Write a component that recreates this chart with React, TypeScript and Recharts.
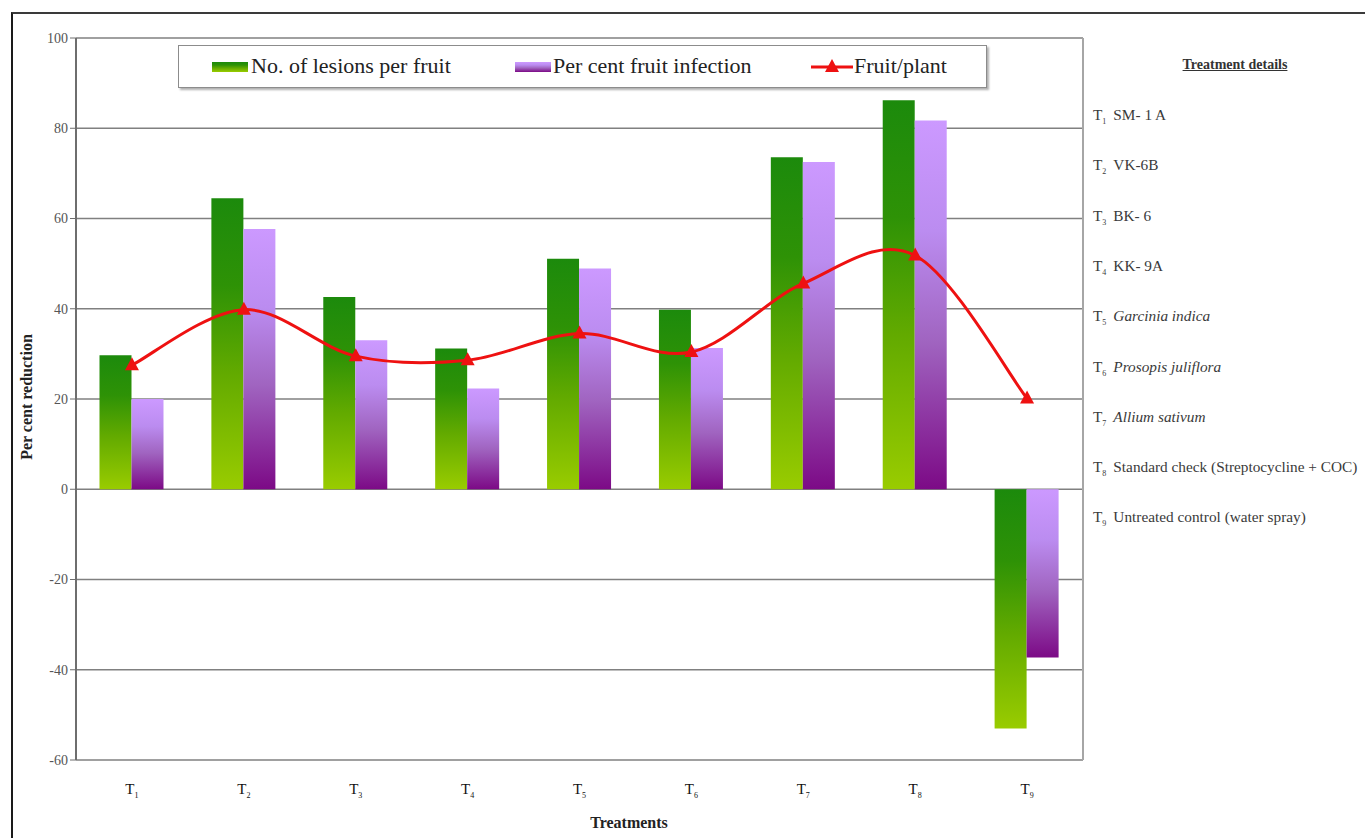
import React from "react";
import {
  ComposedChart,
  Bar,
  Line,
  XAxis,
  YAxis,
  CartesianGrid,
  Legend,
} from "recharts";

const categories = ["T1", "T2", "T3", "T4", "T5", "T6", "T7", "T8", "T9"];
const lesionsPerFruit = [29.7, 64.5, 42.6, 31.2, 51.1, 39.8, 73.6, 86.2, -53.0];
const fruitInfection = [20.0, 57.7, 33.0, 22.3, 48.9, 31.3, 72.5, 81.7, -37.3];
const fruitPerPlant = [27.5, 39.8, 29.5, 28.6, 34.5, 30.4, 45.6, 51.8, 20.1];
const yTicks = [-60, -40, -20, 0, 20, 40, 60, 80, 100];

const treatmentNames = [
  "SM- 1 A",
  "VK-6B",
  "BK- 6",
  "KK- 9A",
  "Garcinia indica",
  "Prosopis juliflora",
  "Allium sativum",
  "Standard check (Streptocycline + COC)",
  "Untreated control (water spray)",
];
const treatmentItalic = [false, false, false, false, true, true, true, false, false];

const seriesNames = ["No. of lesions per fruit", "Per cent fruit infection", "Fruit/plant"];

const data = categories.map((c, i) => ({
  name: c,
  lesions: lesionsPerFruit[i],
  infection: fruitInfection[i],
  fruit: fruitPerPlant[i],
}));

const SERIF = '"Liberation Serif", "Times New Roman", serif';

// Catmull-Rom style smoothing (like spreadsheet smoothed lines)
const smoothCurve = (context: any) => {
  let pts: [number, number][] = [];
  return {
    areaStart() {},
    areaEnd() {},
    lineStart() {
      pts = [];
    },
    point(x: number, y: number) {
      pts.push([+x, +y]);
    },
    lineEnd() {
      if (!pts.length) return;
      context.moveTo(pts[0][0], pts[0][1]);
      for (let i = 0; i < pts.length - 1; i++) {
        const p0 = pts[i - 1] || pts[i];
        const p1 = pts[i];
        const p2 = pts[i + 1];
        const p3 = pts[i + 2] || p2;
        const c1x = p1[0] + (p2[0] - p0[0]) / 6;
        const c1y = p1[1] + (p2[1] - p0[1]) / 6;
        const c2x = p2[0] - (p3[0] - p1[0]) / 6;
        const c2y = p2[1] - (p3[1] - p1[1]) / 6;
        context.bezierCurveTo(c1x, c1y, c2x, c2y, p2[0], p2[1]);
      }
    },
  };
};

const Triangle = (props: any) => {
  const { cx, cy } = props;
  if (cx == null || cy == null) return null;
  return (
    <polygon
      points={`${cx},${cy - 8} ${cx - 7},${cy + 5} ${cx + 7},${cy + 5}`}
      fill="#ee1111"
    />
  );
};

const XTick = (props: any) => {
  const { x, y, payload } = props;
  const v: string = payload.value;
  return (
    <text x={x} y={y + 26} textAnchor="middle" fontFamily={SERIF} fontSize={15} fill="#111">
      {v.slice(0, 1)}
      <tspan fontSize={8} dy={4}>
        {v.slice(1)}
      </tspan>
    </text>
  );
};

const LegendContent = () => (
  <div
    style={{
      position: "relative",
      width: 809,
      height: 43,
      boxSizing: "border-box",
      border: "1px solid #8c8c8c",
      boxShadow: "2px 2px 2px #b0b0b0",
      background: "#fff",
      fontFamily: SERIF,
      fontSize: 22,
      color: "#222",
    }}
  >
    <svg width={36} height={10} style={{ position: "absolute", left: 33, top: 16 }}>
      <rect x={0} y={0} width={36} height={10} fill="url(#gGreen)" />
    </svg>
    <span style={{ position: "absolute", left: 72, top: 7, whiteSpace: "nowrap", lineHeight: "26px" }}>
      {seriesNames[0]}
    </span>
    <svg width={36} height={10} style={{ position: "absolute", left: 336, top: 16 }}>
      <rect x={0} y={0} width={36} height={10} fill="url(#gPurple)" />
    </svg>
    <span style={{ position: "absolute", left: 374, top: 7, whiteSpace: "nowrap", lineHeight: "26px" }}>
      {seriesNames[1]}
    </span>
    <svg width={42} height={20} style={{ position: "absolute", left: 632, top: 11 }}>
      <line x1={0} y1={10} x2={42} y2={10} stroke="#ee1111" strokeWidth={3} />
      <polygon points="21,2 14,15 28,15" fill="#ee1111" />
    </svg>
    <span style={{ position: "absolute", left: 675, top: 7, whiteSpace: "nowrap", lineHeight: "26px" }}>
      {seriesNames[2]}
    </span>
  </div>
);

export default function App() {
  return (
    <div
      style={{
        position: "absolute",
        left: 0,
        top: 0,
        width: 1365,
        height: 838,
        overflow: "hidden",
        background: "#fff",
      }}
    >
      <div
        style={{
          position: "absolute",
          left: 11,
          top: 12,
          width: 1365,
          height: 838,
          borderTop: "2px solid #3a3a3a",
          borderLeft: "2px solid #1a1a1a",
        }}
      />
      <div style={{ position: "absolute", left: 0, top: 0 }}>
        <ComposedChart
          width={1365}
          height={838}
          data={data}
          margin={{ top: 38, right: 281, bottom: 38, left: 26 }}
          barCategoryGap="21%"
          barGap={0}
        >
          <defs>
            <linearGradient id="gGreen" x1="0" y1="0" x2="0" y2="1">
              <stop offset="0%" stopColor="#1c8a0c" />
              <stop offset="30%" stopColor="#2e9206" />
              <stop offset="60%" stopColor="#62aa00" />
              <stop offset="100%" stopColor="#99cc00" />
            </linearGradient>
            <linearGradient id="gPurple" x1="0" y1="0" x2="0" y2="1">
              <stop offset="0%" stopColor="#cc99ff" />
              <stop offset="30%" stopColor="#bb8cf0" />
              <stop offset="60%" stopColor="#a064c0" />
              <stop offset="100%" stopColor="#7c0a86" />
            </linearGradient>
          </defs>
          <CartesianGrid vertical={false} stroke="#808080" strokeWidth={1.5} />
          <XAxis
            dataKey="name"
            height={40}
            axisLine={{ stroke: "#a0a0a0", strokeWidth: 2 }}
            tickLine={false}
            tick={<XTick />}
            interval={0}
          />
          <YAxis
            width={50}
            domain={[-60, 100]}
            ticks={yTicks}
            interval={0}
            allowDataOverflow
            axisLine={{ stroke: "#6e6e6e", strokeWidth: 2 }}
            tickLine={{ stroke: "#6e6e6e" }}
            tickSize={6}
            tick={{ fontFamily: SERIF, fontSize: 14, fill: "#555" }}
          />
          <YAxis
            yAxisId="frame"
            orientation="right"
            width={1}
            domain={[0, 1]}
            tick={false}
            tickLine={false}
            axisLine={{ stroke: "#a6a6a6", strokeWidth: 2 }}
          />
          <Legend
            layout="horizontal"
            verticalAlign="middle"
            align="center"
            wrapperStyle={{ position: "absolute", left: 178, top: 45, width: 809, height: 43 }}
            content={<LegendContent />}
          />
          <Bar dataKey="lesions" name={seriesNames[0]} fill="url(#gGreen)" isAnimationActive={false} />
          <Bar dataKey="infection" name={seriesNames[1]} fill="url(#gPurple)" isAnimationActive={false} />
          <Line
            dataKey="fruit"
            name={seriesNames[2]}
            type={smoothCurve as any}
            stroke="#ee1111"
            strokeWidth={3}
            dot={<Triangle />}
            activeDot={false}
            isAnimationActive={false}
          />
        </ComposedChart>
      </div>

      <div
        style={{
          position: "absolute",
          left: 27 - 100,
          top: 397 - 10,
          width: 200,
          height: 20,
          transform: "rotate(-90deg)",
          textAlign: "center",
          fontFamily: SERIF,
          fontWeight: "bold",
          fontSize: 16,
          color: "#222",
          lineHeight: "20px",
        }}
      >
        Per cent reduction
      </div>
      <div
        style={{
          position: "absolute",
          left: 529,
          top: 813,
          width: 200,
          textAlign: "center",
          fontFamily: SERIF,
          fontWeight: "bold",
          fontSize: 16,
          color: "#222",
          lineHeight: "20px",
        }}
      >
        Treatments
      </div>

      <div
        style={{
          position: "absolute",
          left: 1135,
          top: 55,
          width: 200,
          textAlign: "center",
          fontFamily: SERIF,
          fontWeight: "bold",
          fontSize: 14,
          color: "#333",
          textDecoration: "underline",
          lineHeight: "20px",
        }}
      >
        Treatment details
      </div>
      {treatmentNames.map((t, i) => (
        <div
          key={t}
          style={{
            position: "absolute",
            left: 1093,
            top: 105 + i * 50.3,
            whiteSpace: "nowrap",
            fontFamily: SERIF,
            fontSize: 15.3,
            color: "#3a3a3a",
            lineHeight: "20px",
          }}
        >
          T<sub style={{ fontSize: 8 }}>{categories[i].slice(1)}</sub>
          <span style={{ marginLeft: 7, fontStyle: treatmentItalic[i] ? "italic" : "normal" }}>{t}</span>
        </div>
      ))}
    </div>
  );
}
